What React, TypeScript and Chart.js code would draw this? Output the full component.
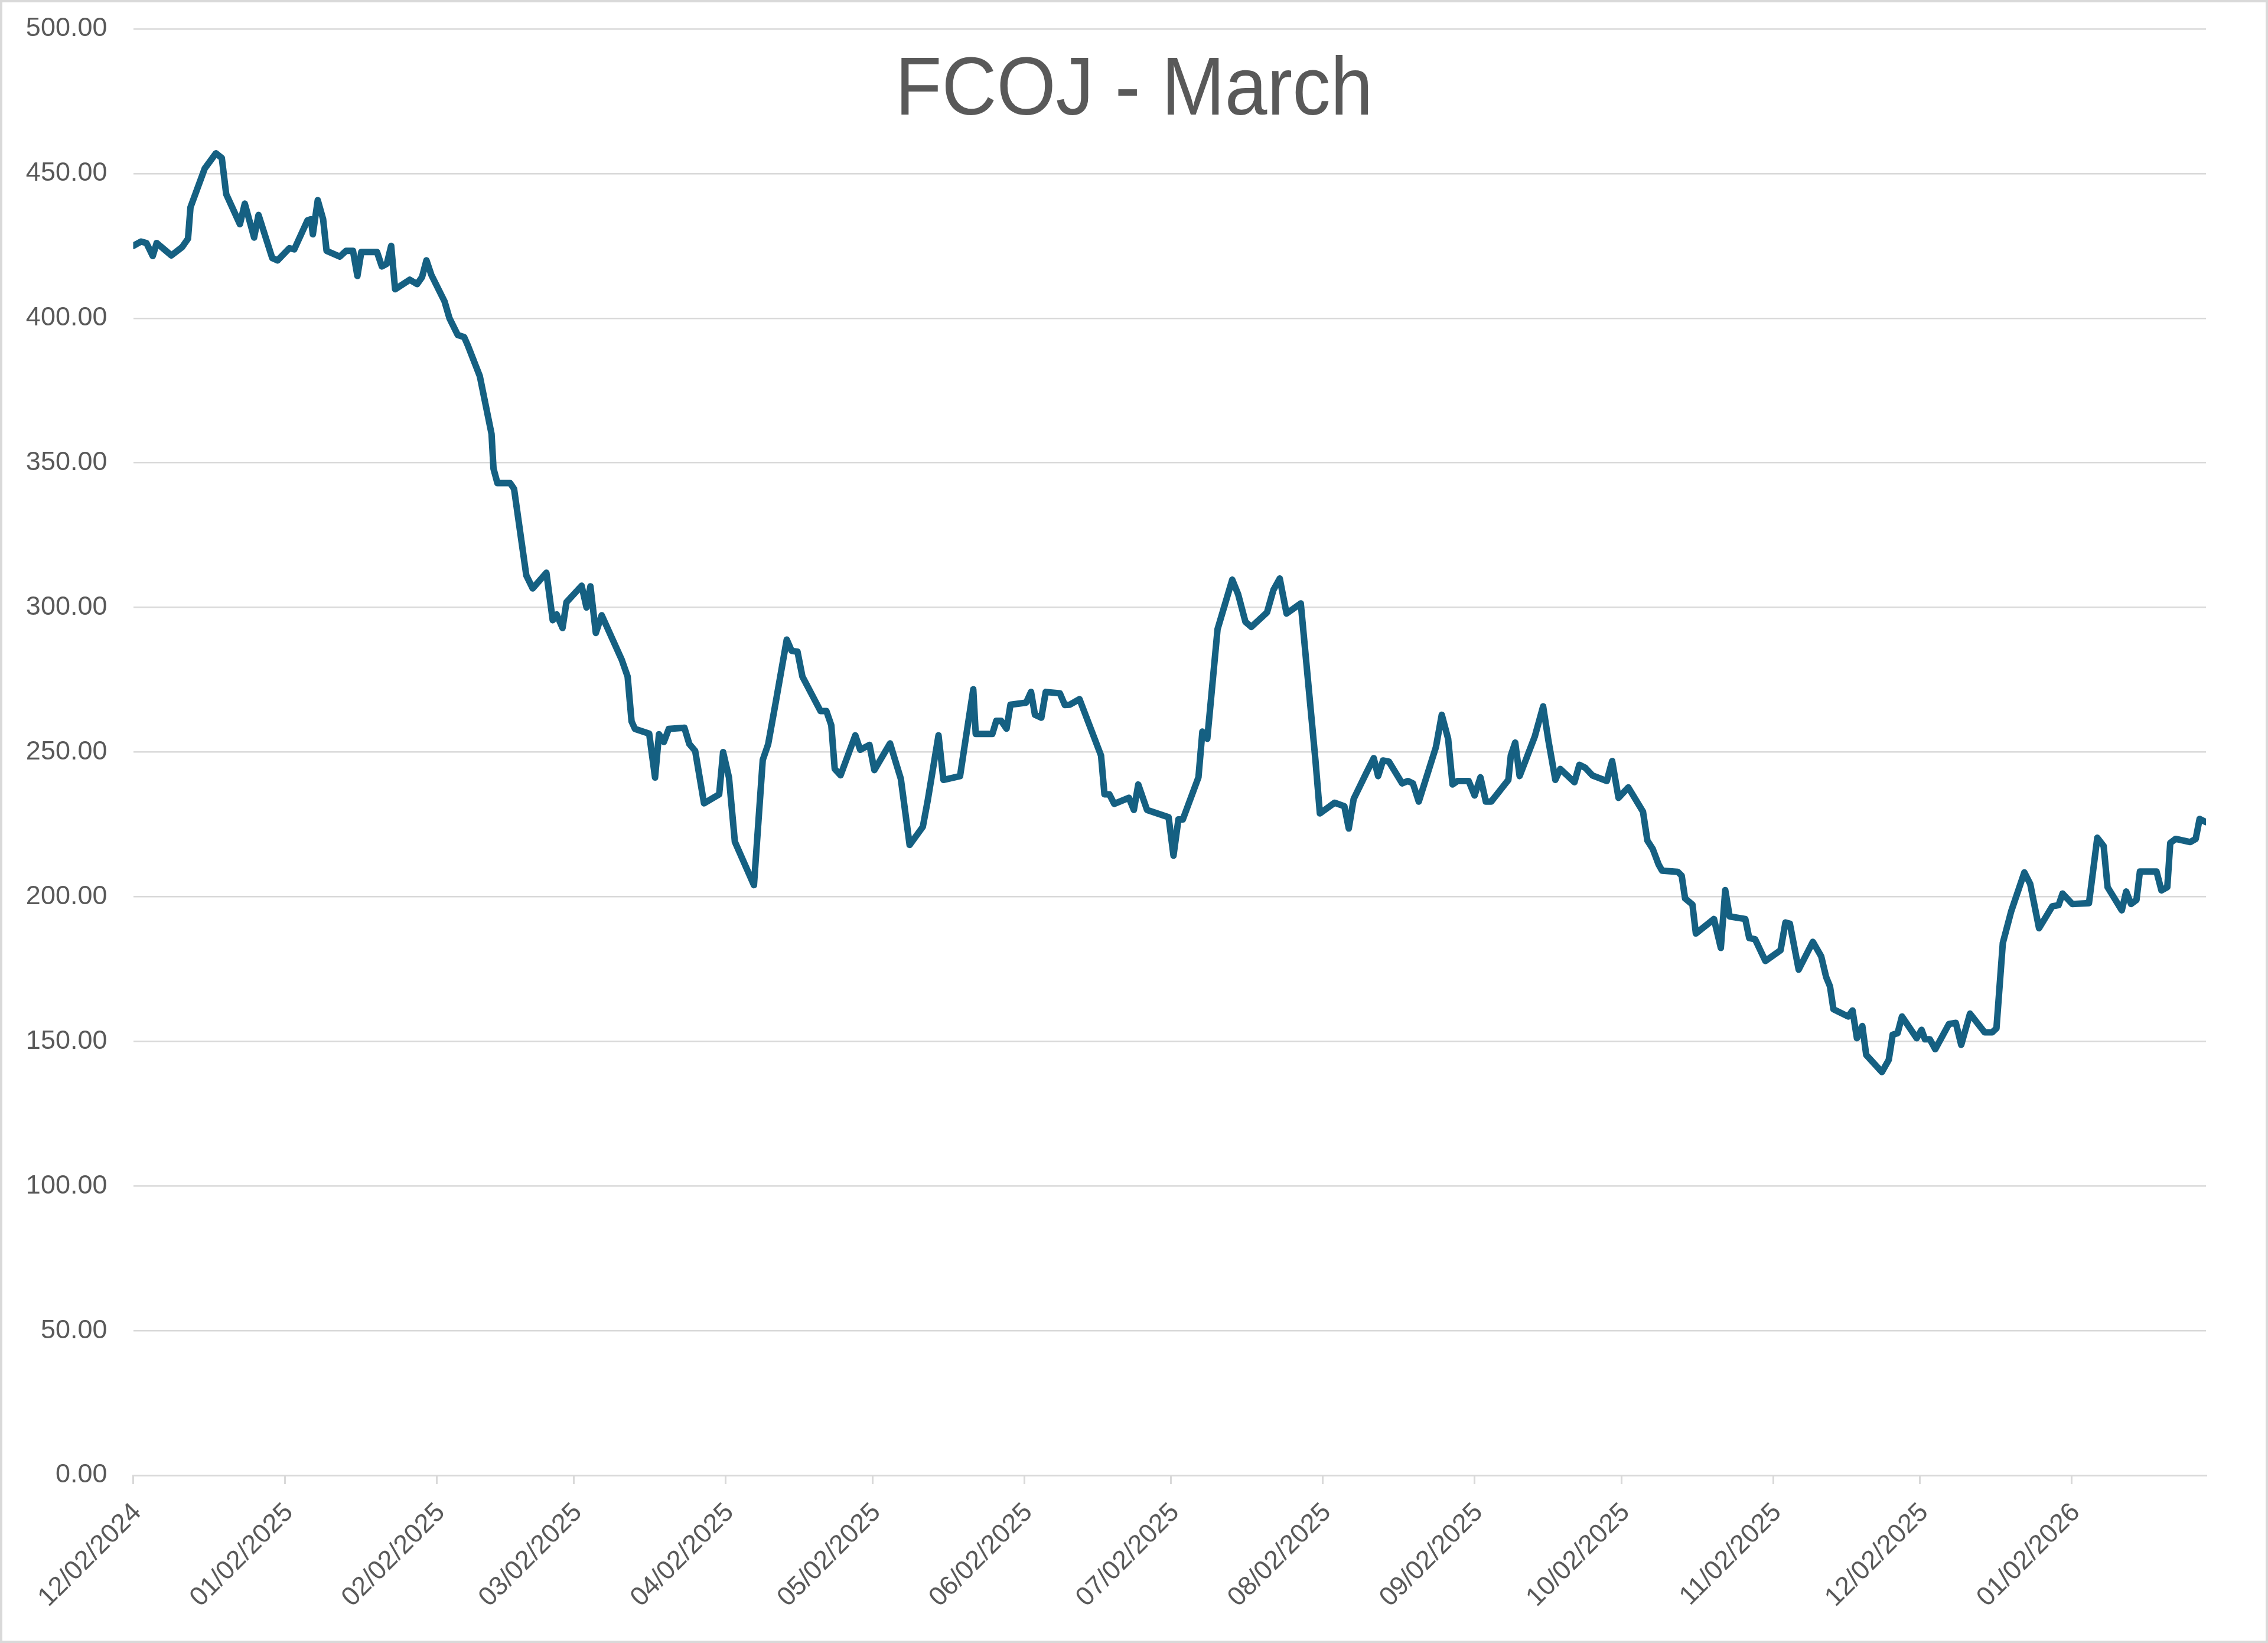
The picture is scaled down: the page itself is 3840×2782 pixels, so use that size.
import React, { useEffect, useRef } from "react";
import { Chart, registerables } from "chart.js";

Chart.register(...registerables);

const chartTitle = "FCOJ - March";

// x of each vertex, in days after 12/02/2024
const dayOffsets = [
  0, 1.6, 2.7, 4.0, 4.8, 7.8, 10.0, 11.2, 11.7, 14.6, 16.9, 18.1, 19.0, 21.8,
  22.8, 24.7, 25.6, 28.4, 29.5, 31.9, 32.9, 35.6, 36.3, 36.7, 37.7, 38.8, 39.5,
  42.2, 43.5, 44.9, 45.8, 46.6, 49.8, 50.8, 51.8, 52.7, 53.5, 56.5, 58.0, 59.0,
  59.9, 60.9, 63.6, 64.6, 66.3, 67.6, 68.3, 70.8, 72.0, 73.2, 73.6, 74.4, 77.0,
  77.8, 80.3, 81.6, 84.4, 85.7, 86.5, 87.7, 88.5, 91.6, 92.6, 93.4, 94.5, 95.7,
  99.8, 101.0, 101.8, 102.5, 105.4, 106.6, 107.4, 108.4, 109.4, 112.6, 113.6,
  114.8, 116.6, 119.7, 120.5, 121.7, 122.9, 126.8, 128.6, 129.7, 131.3, 133.5,
  134.5, 135.7, 136.7, 140.4, 141.6, 142.6, 143.3, 144.5, 147.5, 148.5, 150.4,
  151.4, 154.6, 156.8, 158.6, 161.3, 162.3, 164.5, 165.5, 168.9, 169.9, 171.6,
  172.1, 175.5, 176.3, 177.3, 178.4, 179.2, 182.4, 183.4, 184.2, 185.5, 186.4,
  189.3, 190.3, 191.3, 193.3, 197.7, 198.4, 199.4, 200.4, 203.4, 204.4, 205.3,
  207.1, 211.5, 212.5, 213.5, 214.4, 217.6, 218.4, 219.4, 221.5, 224.5, 225.7,
  227.2, 228.4, 231.6, 232.9, 234.2, 235.6, 238.5, 241.5, 242.4, 245.4, 247.4,
  248.3, 249.3, 251.8, 253.4, 254.3, 255.3, 256.5, 259.2, 260.4, 261.4, 262.6,
  266.1, 267.3, 268.6, 269.5, 270.5, 272.8, 274.0, 275.2, 276.3, 277.4, 280.9,
  281.4, 282.3, 283.2, 286.3, 288.0, 289.1, 290.5, 291.5, 294.4, 295.4, 296.6,
  298.1, 301.0, 302.1, 303.4, 305.4, 308.4, 309.3, 310.4, 311.6, 312.3, 315.5,
  316.3, 317.0, 318.5, 319.2, 322.9, 324.3, 325.2, 326.1, 329.3, 330.1, 331.3,
  333.4, 336.5, 337.5, 338.4, 340.2, 343.1, 344.8, 345.8, 346.6, 347.3, 350.3,
  351.2, 352.1, 353.2, 354.0, 357.2, 358.6, 359.4, 360.4, 361.3, 364.3, 365.3,
  366.0, 367.0, 368.1, 370.9, 372.3, 373.4, 375.2, 378.2, 379.7, 380.6, 381.9,
  383.6, 386.3, 387.5, 389.3, 392.0, 393.3, 394.1, 396.1, 399.5, 401.2, 402.5,
  403.3, 406.2, 407.1, 408.1, 409.2, 409.9, 413.3, 414.3, 415.5, 416.1, 417.2,
  420.2, 421.3, 422.1, 423.4,
];

const prices = [
  425, 426.5, 426, 421.5, 426, 421.7, 424.6, 427.5, 438.3, 451.7, 457, 455.4,
  442.9, 432.5, 439.6, 427.9, 435.7, 420.8, 420, 424.2, 423.8, 433.8, 434.2,
  429, 440.8, 434.2, 423.3, 421.3, 423.3, 423.3, 414.6, 422.9, 422.9, 417.9,
  418.8, 425, 410, 413.3, 411.8, 414.2, 420, 415, 405.8, 400, 394.2, 393.5,
  390.8, 380, 370, 360, 348, 343, 343, 341, 311.1, 306.6, 312, 295.6, 297.6,
  292.9, 301.8, 307.5, 300, 307.3, 291.2, 297.3, 281.9, 276.1, 260.6, 258,
  256.4, 241.2, 256.2, 253.5, 258, 258.4, 252.8, 250.4, 232.3, 235.4, 250,
  241.2, 219, 204, 247.3, 252.7, 267.7, 288.9, 285, 284.7, 276.1, 264.2, 264.2,
  259.3, 244.2, 242, 255.8, 250.8, 252.5, 243.8, 253, 240.8, 217.9, 224.2,
  233.3, 255.8, 240.4, 241.7, 252.9, 271.7, 256.3, 256.3, 260.8, 260.8, 258.1,
  266.4, 267.1, 270.8, 262.9, 261.9, 270.8, 270.3, 266.3, 266.4, 268.3, 248.8,
  235.4, 235.4, 232.1, 234.2, 230, 238.8, 230, 227.5, 214.2, 226.7, 226.7,
  241.3, 257.1, 254.6, 292.5, 309.6, 304.6, 295, 293.3, 298.3, 306, 310, 297.9,
  301.4, 247.1, 228.8, 232.5, 231.3, 223.6, 233.8, 242.5, 247.9, 241.7, 247.1,
  246.7, 239.2, 240, 239.2, 232.9, 251.7, 262.9, 254.6, 238.8, 240, 240, 235,
  241.3, 232.9, 232.9, 240.4, 248.8, 253.3, 241.7, 255.4, 265.8, 253.8, 240.4,
  244.2, 239.6, 245.6, 244.6, 241.9, 240, 246.9, 234.2, 237.8, 229.4, 219.4,
  216.5, 211.1, 209, 208.6, 207.3, 199.4, 197.3, 187.3, 192.3, 182.3, 202.3,
  193.2, 192.3, 185.7, 185.3, 177.8, 181.5, 191.1, 190.7, 174.8, 184.4, 179.4,
  172.3, 169, 161.1, 158.6, 160.7, 151.1, 155.3, 145.3, 139.4, 143.6, 152.3,
  152.8, 158.6, 151.1, 154, 150.7, 150.7, 147.3, 156, 156.4, 148.8, 159.6,
  153.1, 153.1, 154.5, 184, 194.9, 208.4, 204.4, 189.1, 196.7, 197.1, 201.1,
  197.5, 197.8, 220.4, 217.5, 203.3, 195.3, 201.8, 197.5, 198.9, 208.7, 208.7,
  202.2, 203.3, 218.6, 220, 218.9, 220, 226.9, 225.8,
];

const tickLabels = [
  "12/02/2024", "01/02/2025", "02/02/2025", "03/02/2025", "04/02/2025",
  "05/02/2025", "06/02/2025", "07/02/2025", "08/02/2025", "09/02/2025",
  "10/02/2025", "11/02/2025", "12/02/2025", "01/02/2026",
];

const yMin = 0;
const yMax = 500;
const yStep = 50;

const WIDTH = 3840;
const HEIGHT = 2782;
const FONT = '"Liberation Sans", Arial, sans-serif';
const TEXT = "#595959";
const GRID = "#d9d9d9";

const startMs = Date.UTC(2024, 11, 2);
const labelToDay = (label: string) => {
  const [m, d, y] = label.split("/").map(Number);
  return Math.round((Date.UTC(y, m - 1, d) - startMs) / 86400000);
};
const tickDays = tickLabels.map(labelToDay);

// border round the whole chart and the title laid over the plot
const frame = {
  id: "frame",
  afterDraw(chart: Chart) {
    const { ctx } = chart;
    ctx.save();
    ctx.strokeStyle = GRID;
    ctx.lineWidth = 4;
    ctx.strokeRect(2, 2, chart.width - 4, chart.height - 4);
    ctx.fillStyle = TEXT;
    ctx.font = `140px ${FONT}`;
    ctx.textAlign = "center";
    ctx.textBaseline = "alphabetic";
    ctx.translate(chart.width / 2, 194);
    ctx.scale(0.92, 1);
    ctx.fillText(chartTitle, 0, 0);
    ctx.restore();
  },
};

const App: React.FC = () => {
  const canvasRef = useRef<HTMLCanvasElement | null>(null);
  const chartRef = useRef<Chart | null>(null);

  useEffect(() => {
    if (!canvasRef.current) return;
    if (chartRef.current) chartRef.current.destroy();

    const ctx = canvasRef.current.getContext("2d");
    if (!ctx) return;

    chartRef.current = new Chart(ctx, {
      type: "line",
      data: {
        datasets: [
          {
            label: chartTitle,
            data: dayOffsets.map((x, i) => ({ x, y: prices[i] })),
            borderColor: "#156082",
            borderWidth: 11,
            pointRadius: 0,
            tension: 0,
            borderJoinStyle: "round",
            borderCapStyle: "round",
          },
        ],
      },
      options: {
        responsive: false,
        animation: false,
        devicePixelRatio: 1,
        layout: { padding: { top: 49, right: 105, left: 0, bottom: 0 } },
        plugins: {
          legend: { display: false },
          tooltip: { enabled: false },
          title: { display: false },
        },
        scales: {
          x: {
            type: "linear",
            min: 0,
            max: dayOffsets[dayOffsets.length - 1],
            afterBuildTicks: (scale) => {
              scale.ticks = tickDays.map((value) => ({ value }));
            },
            afterFit: (scale) => {
              scale.height = 284;
            },
            grid: {
              display: true,
              drawOnChartArea: false,
              drawTicks: true,
              tickLength: 15,
              color: GRID,
              lineWidth: 3,
            },
            border: { display: true, color: GRID, width: 3 },
            ticks: {
              autoSkip: false,
              minRotation: 45,
              maxRotation: 45,
              padding: 22,
              labelOffset: 7,
              color: TEXT,
              font: { family: FONT, size: 45 },
              callback: (value) => tickLabels[tickDays.indexOf(Number(value))] ?? "",
            },
          },
          y: {
            min: yMin,
            max: yMax,
            afterFit: (scale) => {
              scale.width = 225.5;
            },
            grid: {
              color: GRID,
              lineWidth: 2.5,
              drawTicks: true,
              tickLength: 44,
              tickColor: "transparent",
            },
            border: { display: false },
            ticks: {
              stepSize: yStep,
              padding: 0,
              color: TEXT,
              font: { family: FONT, size: 45 },
              callback: (value) => Number(value).toFixed(2),
            },
          },
        },
      },
      plugins: [frame],
    });

    return () => {
      if (chartRef.current) {
        chartRef.current.destroy();
        chartRef.current = null;
      }
    };
  }, []);

  return (
    <div style={{ position: "absolute", left: 0, top: 0, width: WIDTH, height: HEIGHT, background: "#fff" }}>
      <canvas
        ref={canvasRef}
        width={WIDTH}
        height={HEIGHT}
        style={{ display: "block", width: WIDTH, height: HEIGHT }}
      />
    </div>
  );
};

export default App;
